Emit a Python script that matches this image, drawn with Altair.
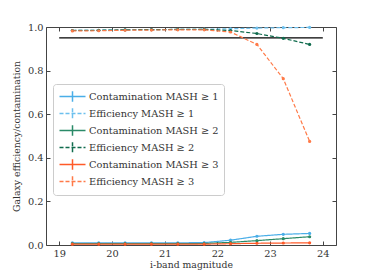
import altair as alt
import pandas as pd

mag = [19.25, 19.75, 20.25, 20.75, 21.25, 21.75, 22.25, 22.75, 23.25, 23.75]
cont1 = [0.010, 0.010, 0.010, 0.010, 0.010, 0.011, 0.022, 0.040, 0.049, 0.053]
eff1 = [0.984, 0.985, 0.987, 0.988, 0.989, 0.990, 0.992, 0.995, 0.997, 0.998]
cont2 = [0.006, 0.006, 0.006, 0.006, 0.006, 0.007, 0.012, 0.020, 0.029, 0.038]
eff2 = [0.984, 0.985, 0.987, 0.988, 0.989, 0.989, 0.984, 0.970, 0.948, 0.920]
cont3 = [0.004, 0.004, 0.004, 0.004, 0.004, 0.004, 0.006, 0.008, 0.009, 0.010]
eff3 = [0.982, 0.983, 0.985, 0.986, 0.987, 0.987, 0.977, 0.920, 0.763, 0.475]

series_names = [
    "Contamination MASH ≥ 1", "Efficiency MASH ≥ 1",
    "Contamination MASH ≥ 2", "Efficiency MASH ≥ 2",
    "Contamination MASH ≥ 3", "Efficiency MASH ≥ 3",
]
series_vals = [cont1, eff1, cont2, eff2, cont3, eff3]
colors = ["#4aaee8", "#6cc0ee", "#2a8a68", "#0f6b4d", "#ff5a28", "#ff7a48"]
dashes = [[1, 0], [4, 2], [1, 0], [4, 2], [1, 0], [4, 2]]

ref_x = [19, 24]
ref_y = [0.95, 0.95]

rows = []
for name, vals in zip(series_names, series_vals):
    for m, v in zip(mag, vals):
        rows.append({"mag": m, "val": v, "series": name})
df = pd.DataFrame(rows)
ref = pd.DataFrame({"mag": ref_x, "val": ref_y})

FONT = "DejaVu Serif"

xscale = alt.Scale(domain=[18.75, 24.25], nice=False, zero=False)
yscale = alt.Scale(domain=[0, 1], nice=False)

lines = alt.Chart(df).mark_line(
    strokeWidth=1.2,
    point=alt.OverlayMarkDef(filled=True, size=10),
).encode(
    x=alt.X("mag:Q", scale=xscale, title="i-band magnitude",
            axis=alt.Axis(orient="bottom", values=[19, 20, 21, 22, 23, 24], format="d",
                          domain=False, grid=False, tickSize=4, offset=-4,
                          tickColor="#444", labelPadding=3, titlePadding=3)),
    y=alt.Y("val:Q", scale=yscale, title="Galaxy efficiency/contamination",
            axis=alt.Axis(orient="left", values=[0, 0.2, 0.4, 0.6, 0.8, 1.0], format=".1f",
                          domain=False, grid=False, tickSize=4, offset=-4,
                          tickColor="#444", labelPadding=3, titlePadding=6)),
    color=alt.Color("series:N", sort=series_names,
                    scale=alt.Scale(domain=series_names, range=colors),
                    legend=alt.Legend(title=None, orient="none", legendX=7, legendY=57,
                                      symbolType="M-2,0H2M0,-0.8V0.8", symbolSize=169,
                                      symbolStrokeWidth=1.5, symbolOffset=7,
                                      labelFont=FONT, labelFontSize=9.8,
                                      labelColor="#333", rowPadding=0, padding=5,
                                      fillColor="white", strokeColor="#cccccc",
                                      cornerRadius=3, labelOffset=9)),
    strokeDash=alt.StrokeDash("series:N", sort=series_names,
                              scale=alt.Scale(domain=series_names, range=dashes),
                              legend=None),
    order="mag:Q",
)

refline = alt.Chart(ref).mark_line(color="black", strokeWidth=1.2).encode(
    x=alt.X("mag:Q", scale=xscale,
            axis=alt.Axis(orient="top", values=[19, 20, 21, 22, 23, 24], labels=False,
                          domain=False, grid=False, tickSize=4, offset=-4,
                          tickColor="#444", title=None)),
    y=alt.Y("val:Q", scale=yscale,
            axis=alt.Axis(orient="right", values=[0, 0.2, 0.4, 0.6, 0.8, 1.0], labels=False,
                          domain=False, grid=False, tickSize=4, offset=-4,
                          tickColor="#444", title=None)),
)

chart = alt.layer(refline, lines).resolve_axis(x="independent", y="independent").properties(
    width=290, height=218,
    autosize=alt.AutoSizeParams(type="none"),
    padding={"left": 38, "top": 19, "right": 30, "bottom": 30},
).configure_view(
    stroke="#444", strokeWidth=1
).configure_axis(
    labelFont=FONT, titleFont=FONT, labelFontSize=9.8, titleFontSize=9.3,
    labelColor="#333", titleColor="#333", titleFontWeight="normal"
).configure_legend(
    labelFont=FONT
)

chart.save("out.html", embed_options={"renderer": "svg", "actions": False})
